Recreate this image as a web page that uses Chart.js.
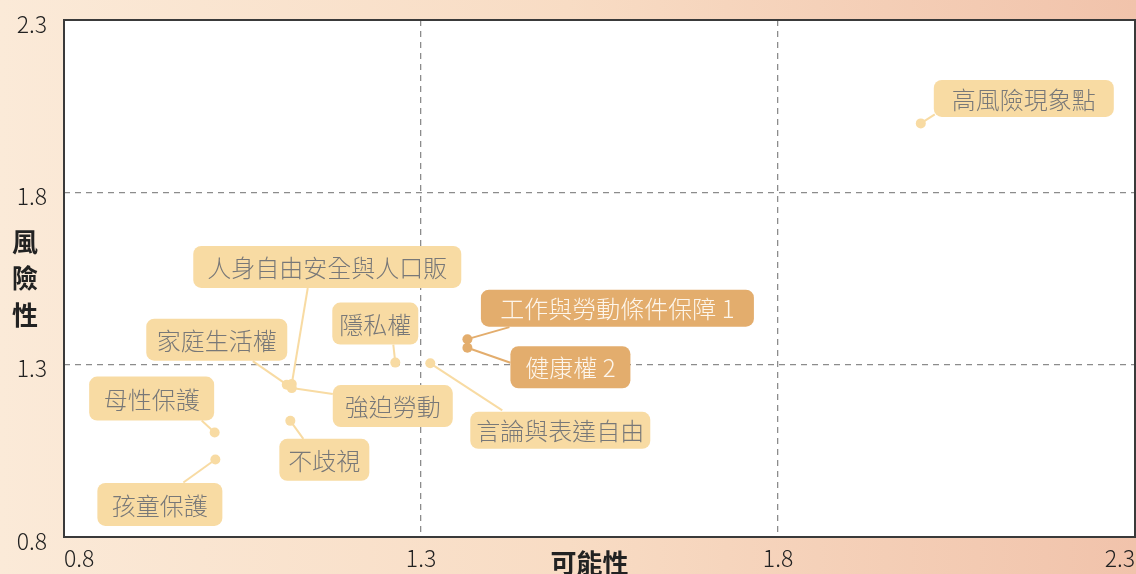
<!DOCTYPE html>
<html lang="zh-Hant">
<head>
<meta charset="utf-8">
<title>風險性與可能性</title>
<script src="https://cdn.jsdelivr.net/npm/chart.js@4.4.0/dist/chart.umd.min.js"></script>
<style>
  html, body { margin: 0; padding: 0; overflow: hidden; background: #fbe9d7; }
  #chartWrap { width: 1136px; height: 574px; }
</style>
</head>
<body>
<div id="chartWrap"><canvas id="scatterchart" width="1136" height="574"></canvas></div>
<script>
// Données
const categories = ['高風險現象點', '人身自由安全與人口販', '家庭生活權', '強迫勞動', '隱私權', '言論與表達自由', '工作與勞動條件保障 1', '健康權 2', '母性保護', '孩童保護', '不歧視'];
const possibilityValues = [2.0, 1.119, 1.112, 1.119, 1.264, 1.313, 1.365, 1.365, 1.011, 1.012, 1.117];
const riskValues = [2.0, 1.244, 1.242, 1.232, 1.306, 1.304, 1.374, 1.349, 1.103, 1.025, 1.137];
const highlighted = [false, false, false, false, false, false, true, true, false, false, false];
const xTicks = [0.8, 1.3, 1.8, 2.3];
const yTicks = [0.8, 1.3, 1.8, 2.3];
const xTitle = '可能性';
const yTitle = '風險性';

// placement des étiquettes en px, relatif au point : [dx, dy, largeur, hauteur, finLigneX, finLigneY]
const labelLayout = [
    [103, -25, 180, 37, 14, -9],
    [35.5, -117, 268, 42, 16, -96],
    [-70, -45, 141, 42, -34, -23.5],
    [101, 18, 120, 42, 41, 6],
    [-20, -39, 86, 42, -2, -18],
    [130, 67, 180, 37, 72, 47],
    [150, -31, 273, 37, 42, -12],
    [103, 19.5, 120, 42, 43, 15],
    [-63, -34, 125, 44, -13, -12],
    [-55.5, 45, 125, 43, -32, 23],
    [34, 39, 90, 42, 13, 18]
];

const LIGHT = '#f8dba3';
const DARK = '#e3ad6d';
const FONT = '"Noto Sans CJK TC", "Noto Sans", sans-serif';

/*
Dessine le fond dégradé et la zone blanche du graphique
*/
const backgroundPlugin = {
    id: 'backgroundPlugin',
    beforeDraw(chart) {
        const {ctx, width, height, chartArea} = chart;
        const grad = ctx.createLinearGradient(0, 0, width, 0);
        grad.addColorStop(0, '#fbead8');
        grad.addColorStop(0.5, '#f8dcc4');
        grad.addColorStop(1, '#f1c3ab');
        ctx.save();
        ctx.fillStyle = grad;
        ctx.fillRect(0, 0, width, height);
        ctx.fillStyle = '#ffffff';
        ctx.fillRect(chartArea.left, chartArea.top, chartArea.right - chartArea.left, chartArea.bottom - chartArea.top);
        ctx.restore();
    },
    beforeDatasetsDraw(chart) {
        // cadre complet autour de la zone
        const {ctx, chartArea} = chart;
        ctx.save();
        ctx.strokeStyle = '#3a3a3a';
        ctx.lineWidth = 2;
        ctx.strokeRect(chartArea.left, chartArea.top, chartArea.right - chartArea.left, chartArea.bottom - chartArea.top);
        ctx.restore();
    }
};

/*
Dessine les étiquettes arrondies et leurs traits de liaison
*/
const labelsPlugin = {
    id: 'labelsPlugin',
    afterDatasetsDraw(chart) {
        const {ctx} = chart;
        const xs = chart.scales.x;
        const ys = chart.scales.y;
        const pos = categories.map((c, i) => [xs.getPixelForValue(possibilityValues[i]), ys.getPixelForValue(riskValues[i])]);

        ctx.save();
        ctx.lineWidth = 2;
        // traits
        categories.forEach((c, i) => {
            const [px, py] = pos[i];
            const l = labelLayout[i];
            ctx.strokeStyle = highlighted[i] ? DARK : LIGHT;
            ctx.beginPath();
            ctx.moveTo(px, py);
            ctx.lineTo(px + l[4], py + l[5]);
            ctx.stroke();
        });
        // boîtes + texte
        ctx.font = '300 24px ' + FONT;
        ctx.textAlign = 'center';
        ctx.textBaseline = 'middle';
        categories.forEach((c, i) => {
            const [px, py] = pos[i];
            const l = labelLayout[i];
            const cx = px + l[0];
            const cy = py + l[1];
            ctx.fillStyle = highlighted[i] ? DARK : LIGHT;
            ctx.beginPath();
            ctx.roundRect(cx - l[2] / 2, cy - l[3] / 2, l[2], l[3], 8);
            ctx.fill();
            ctx.fillStyle = highlighted[i] ? '#fdf6ec' : '#787878';
            ctx.fillText(c, cx, cy + 1);
        });
        ctx.restore();
    },
    afterDraw(chart) {
        // titres des axes
        const {ctx, chartArea} = chart;
        ctx.save();
        ctx.fillStyle = '#222222';
        ctx.font = 'bold 26px ' + FONT;
        ctx.textAlign = 'center';
        ctx.textBaseline = 'middle';
        ctx.fillText(xTitle, (chartArea.left + chartArea.right) / 2 - 10, 563);
        const mid = (chartArea.top + chartArea.bottom) / 2;
        [...yTitle].forEach((ch, k) => {
            ctx.fillText(ch, 25, mid + (k - 1) * 36.5);
        });
        ctx.restore();
    }
};

// enlève les marges automatiques des axes
function noScalePadding(_scale) {
    _scale.paddingTop = 0;
    _scale.paddingBottom = 0;
    _scale.paddingLeft = 0;
    _scale.paddingRight = 0;
}

function createScatterChart() {
    const ctx = document.getElementById('scatterchart');
    const points = categories.map((c, i) => ({x: possibilityValues[i], y: riskValues[i]}));

    const tickFont = {family: FONT, size: 23, weight: 300};
    const gridColor = (c) => (c.index === 0 || c.index === 3) ? 'rgba(0,0,0,0)' : '#8c8c8c';

    new Chart(ctx, {
        type: 'scatter',
        data: {
            datasets: [
                {
                    label: '風險性',
                    data: points,
                    pointRadius: 5,
                    pointHoverRadius: 5,
                    borderWidth: 0,
                    backgroundColor: (c) => highlighted[c.dataIndex] ? DARK : LIGHT
                }
            ]
        },
        options: {
            responsive: false,
            animation: false,
            events: [],
            layout: {
                autoPadding: false,
                padding: {top: 20, right: 1, left: 0, bottom: 0}
            },
            plugins: {
                legend: {display: false},
                tooltip: {enabled: false}
            },
            scales: {
                x: {
                    type: 'linear',
                    min: 0.8,
                    max: 2.3,
                    afterBuildTicks: (s) => { s.ticks = xTicks.map(v => ({value: v})); },
                    afterFit: (s) => { s.height = 37; noScalePadding(s); },
                    ticks: {
                        align: 'inner',
                        padding: 7,
                        color: '#222222',
                        font: tickFont,
                        callback: (v) => Number(v).toFixed(1)
                    },
                    grid: {color: gridColor, lineWidth: 1.3, drawTicks: false},
                    border: {display: false, dash: [6, 5]}
                },
                y: {
                    type: 'linear',
                    min: 0.8,
                    max: 2.3,
                    afterBuildTicks: (s) => { s.ticks = yTicks.map(v => ({value: v})); },
                    afterFit: (s) => { s.width = 64; noScalePadding(s); },
                    ticks: {
                        padding: 17,
                        labelOffset: 4,
                        color: '#222222',
                        font: tickFont,
                        callback: (v) => Number(v).toFixed(1)
                    },
                    grid: {color: gridColor, lineWidth: 1.3, drawTicks: false},
                    border: {display: false, dash: [6, 5]}
                }
            }
        },
        plugins: [backgroundPlugin, labelsPlugin]
    });
}

createScatterChart();
</script>
</body>
</html>
